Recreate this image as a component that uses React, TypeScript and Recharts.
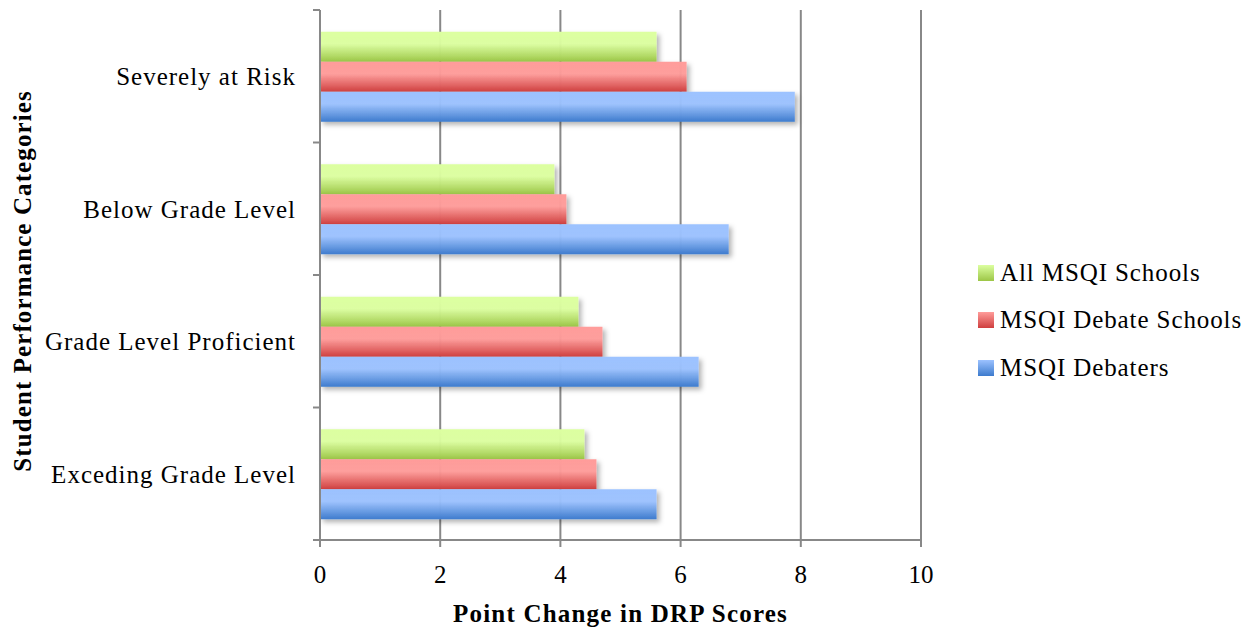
import { BarChart, Bar, XAxis, YAxis, CartesianGrid, Legend } from 'recharts';

const categories = ['Severely at Risk', 'Below Grade Level', 'Grade Level Proficient', 'Exceding Grade Level'];
const allSchools = [5.6, 3.9, 4.3, 4.4];
const debateSchools = [6.1, 4.1, 4.7, 4.6];
const debaters = [7.9, 6.8, 6.3, 5.6];
const xTicks = [0, 2, 4, 6, 8, 10];

const SERIES = [
  { key: 'all', name: 'All MSQI Schools', top: '#dcffa0', bottom: '#9cc646' },
  { key: 'school', name: 'MSQI Debate Schools', top: '#ff9c9a', bottom: '#cf3f3f' },
  { key: 'debater', name: 'MSQI Debaters', top: '#9cc2ff', bottom: '#3d7bcd' },
];

const data = categories.map((name, i) => ({
  name,
  all: allSchools[i],
  school: debateSchools[i],
  debater: debaters[i],
}));

const FONT = '"Liberation Serif", "Times New Roman", serif';
const W = 1253;
const H = 629;
const MARGIN = { top: 10, right: 332, bottom: 0, left: 0 };
const X_AXIS_H = 89;
const BAND = (H - MARGIN.top - MARGIN.bottom - X_AXIS_H) / categories.length;

function CategoryTick(props: any) {
  const { x, y, payload, index } = props;
  const last = index === categories.length - 1;
  return (
    <g>
      <line x1={x - 7} x2={x} y1={y - BAND / 2} y2={y - BAND / 2} stroke="#888" strokeWidth={2} />
      {last && <line x1={x - 7} x2={x} y1={y + BAND / 2} y2={y + BAND / 2} stroke="#888" strokeWidth={2} />}
      <text
        x={x - 24}
        y={y}
        dy="0.35em"
        textAnchor="end"
        fill="#000"
        fontSize={25}
        fontFamily={FONT}
        letterSpacing={1}
      >
        {payload.value}
      </text>
    </g>
  );
}

function YTitle(props: any) {
  const { viewBox } = props;
  const cx = viewBox.x + 22;
  const cy = viewBox.y + viewBox.height / 2 + 6;
  return (
    <text
      x={cx}
      y={cy}
      dy="0.35em"
      textAnchor="middle"
      transform={`rotate(-90, ${cx}, ${cy})`}
      fontFamily={FONT}
      fontWeight="bold"
      fontSize={25}
      letterSpacing={1.1}
      fill="#000"
    >
      Student Performance Categories
    </text>
  );
}

function LegendBox() {
  return (
    <div style={{ fontFamily: FONT, fontSize: 25, color: '#000', letterSpacing: 0.9 }}>
      {SERIES.map((s) => (
        <div key={s.key} style={{ height: 47.5, display: 'flex', alignItems: 'center' }}>
          <span
            style={{
              width: 16,
              height: 16,
              marginRight: 6,
              display: 'inline-block',
              background: `linear-gradient(${s.top}, ${s.bottom})`,
            }}
          />
          <span>{s.name}</span>
        </div>
      ))}
    </div>
  );
}

export default function App() {
  return (
    <div style={{ position: 'absolute', left: 0, top: 0, width: W, height: H, background: '#fff' }}>
      <BarChart
        width={W}
        height={H}
        data={data}
        layout="vertical"
        margin={MARGIN}
        barCategoryGap="16.5%"
        barGap={0}
      >
        <defs>
          {SERIES.map((s) => (
            <linearGradient key={s.key} id={`grad-${s.key}`} x1="0" y1="0" x2="0" y2="1">
              <stop offset="0%" stopColor={s.top} />
              <stop offset="40%" stopColor={s.top} stopOpacity={0.95} />
              <stop offset="100%" stopColor={s.bottom} />
            </linearGradient>
          ))}
          <filter id="barShadow" x="-5%" y="-20%" width="115%" height="160%">
            <feDropShadow dx="3" dy="3" stdDeviation="2.5" floodColor="#000" floodOpacity="0.3" />
          </filter>
        </defs>
        <CartesianGrid horizontal={false} stroke="#888" strokeWidth={2} />
        <XAxis
          type="number"
          domain={[0, 10]}
          ticks={xTicks}
          height={X_AXIS_H}
          axisLine={{ stroke: '#888', strokeWidth: 2 }}
          tickLine={{ stroke: '#888', strokeWidth: 2 }}
          tickSize={7}
          tickMargin={18}
          tick={{ fill: '#000', fontSize: 25, fontFamily: FONT }}
          label={{
            value: 'Point Change in DRP Scores',
            position: 'insideBottom',
            offset: 7,
            fill: '#000',
            fontSize: 25,
            fontWeight: 'bold',
            fontFamily: FONT,
            letterSpacing: 1.2,
          }}
        />
        <YAxis
          type="category"
          dataKey="name"
          width={320}
          axisLine={{ stroke: '#888', strokeWidth: 2 }}
          tickLine={false}
          tickSize={0}
          tickMargin={0}
          tick={<CategoryTick />}
          interval={0}
          label={{ content: <YTitle /> }}
        />
        <Legend
          layout="vertical"
          align="center"
          verticalAlign="middle"
          wrapperStyle={{ left: 978, top: 249, width: 275 }}
          content={<LegendBox />}
        />
        {SERIES.map((s) => (
          <Bar
            key={s.key}
            dataKey={s.key}
            name={s.name}
            fill={`url(#grad-${s.key})`}
            filter="url(#barShadow)"
            isAnimationActive={false}
          />
        ))}
      </BarChart>
    </div>
  );
}
